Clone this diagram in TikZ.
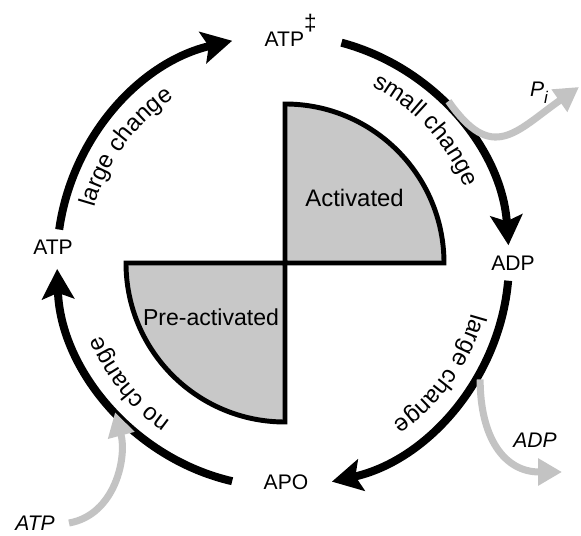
\documentclass[tikz,border=0pt]{standalone}
\usepackage{fontspec}
\setmainfont{Liberation Sans}
\usetikzlibrary{arrows.meta,decorations.text}
\definecolor{shade}{RGB}{200,200,200}
\definecolor{mist}{RGB}{195,195,195}

\begin{document}
\begin{tikzpicture}[lbl/.style={font=\fontsize{15}{18}\selectfont,inner sep=1pt},big/.style={font=\fontsize{17}{20}\selectfont,inner sep=1pt},quad/.style={draw,line width=3.5pt,fill=shade,line join=miter},cyc/.style={line width=5.7pt,looseness=.94,-{Stealth[length=7.5mm,width=8mm,inset=1.5mm]}},feed/.style={draw=mist,line width=5pt,-{Triangle[length=6mm,width=6.5mm]}},along/.style={decorate,decoration={text along path,text align=center,text={|\fontsize{17}{20}\selectfont|#1}}}]
\useasboundingbox (-7.075,-6.875) rectangle (7.45,6.525);
\coordinate (hub) at (0.05,-0.05);
\draw[quad] (hub) -- ++(0,3.975) arc[start angle=90,end angle=0,radius=3.975] -- cycle;
\draw[quad] (hub) -- ++(-3.975,0) arc[start angle=180,end angle=270,radius=3.975] -- cycle;
\node[big] (act) at (1.79,1.575) {Activated};
\node[big,font=\fontsize{16.4}{20}\selectfont] (pre) at (-1.8,-1.4) {Pre-activated};
% states on the cycle
\node[lbl] (atpL) at (-5.75,0.35) {ATP};
\node[lbl,anchor=base west] (atpT) at (-0.5,5.35) {ATP\raisebox{.8em}{\fontsize{16}{16}\selectfont ‡}};
\node[lbl] (adpR) at (5.75,-0.05) {ADP};
\node[lbl] (apo) at (0.075,-5.525) {APO};
\coordinate (a1) at (172:5.65); \coordinate (b1) at (103:5.65);
\coordinate (a2) at (75:5.65); \coordinate (b2) at (4:5.65);
\coordinate (a3) at (-5:5.65); \coordinate (b3) at (-77.5:5.65);
\coordinate (a4) at (-103:5.65); \coordinate (b4) at (-178:5.65);
\draw[cyc] (a1) to[bend left=34.5] (b1);
\draw[cyc] (a2) to[bend left=35.5] (b2);
\draw[cyc] (a3) to[bend left=36.25] (b3);
\draw[cyc] (a4) to[bend left=37.5] (b4);
\path[along=large change] (174:4.9) arc[start angle=174,end angle=114,radius=4.9];
\path[along=small change] (72.5:4.9) arc[start angle=72.5,end angle=12.5,radius=4.9];
\path[along=large change] (-5.6:4.9) arc[start angle=-5.6,end angle=-65.6,radius=4.9];
\path[along=no change] (-111.4:4.9) arc[start angle=-111.4,end angle=-171.4,radius=4.9];
% exchanged molecules
\node[lbl,font=\fontsize{15}{18}\selectfont\itshape] (pi) at (6.4,4.2) {P\raisebox{-.35em}{\fontsize{12}{12}\selectfont i}};
\node[lbl,font=\fontsize{15}{18}\selectfont\itshape] (adpOut) at (6.3,-4.475) {ADP};
\node[lbl,font=\fontsize{15}{18}\selectfont\itshape] (atpIn) at (-6.2,-6.55) {ATP};
\coordinate (piS) at (44:5.75); \coordinate (piE) at (7.4,4.35);
\coordinate (adpS) at (-31:5.75); \coordinate (adpE) at (6.975,-5.275);
\coordinate (atpS) at (-5.35,-6.55); \coordinate (atpE) at (-138:5.65);
\draw[feed] (piS) to[out=-55,in=215,looseness=1.5] (piE);
\draw[feed] (adpS) to[out=-90,in=180,looseness=1.2] (adpE);
\draw[feed] (atpS) to[out=10,in=-75] (atpE);
\end{tikzpicture}
\end{document}
